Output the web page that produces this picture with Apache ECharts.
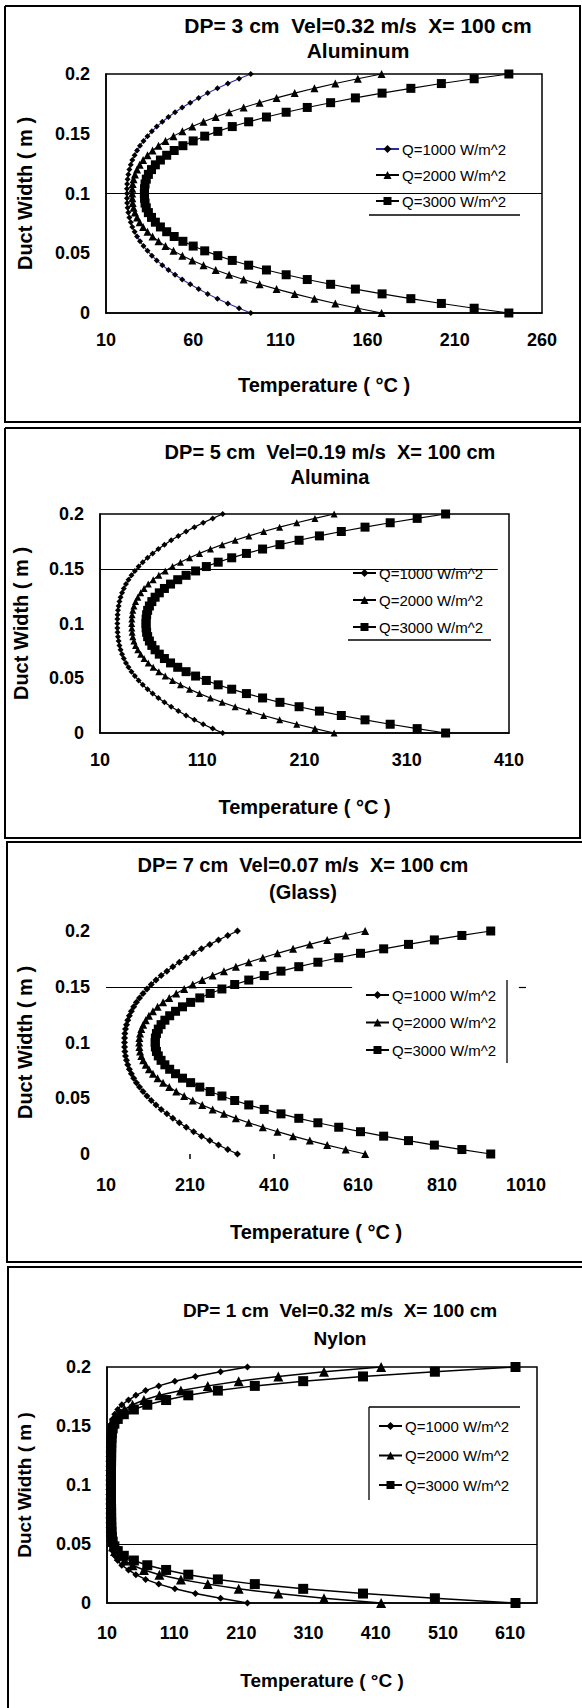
<!DOCTYPE html>
<html><head><meta charset="utf-8">
<script src="https://cdn.jsdelivr.net/npm/echarts@6/dist/echarts.min.js"></script>
<style>html,body{margin:0;padding:0;background:#fff}#c{width:582px;height:1708px}</style>
</head><body><div id="c"></div>
<script>
// ---------- DATA ----------
const ductWidth = [0,0.004,0.008,0.012,0.016,0.02,0.024,0.028,0.032,0.036,0.04,0.044,0.048,0.052,0.056,0.06,0.064,0.068,0.072,0.076,0.08,0.084,0.088,0.092,0.096,0.1,0.104,0.108,0.112,0.116,0.12,0.124,0.128,0.132,0.136,0.14,0.144,0.148,0.152,0.156,0.16,0.164,0.168,0.172,0.176,0.18,0.184,0.188,0.192,0.196,0.2];
const seriesNames = ['Q=1000 W/m^2','Q=2000 W/m^2','Q=3000 W/m^2'];

// Aluminum
const alQ1000 = [93,86.3,79.9,73.9,68.3,63.1,58.3,53.7,49.6,45.8,42.3,39.1,36.3,33.8,31.5,29.5,27.8,26.4,25.1,24.2,23.4,22.8,22.4,22.1,22,22,22,22.1,22.4,22.8,23.4,24.2,25.1,26.4,27.8,29.5,31.5,33.8,36.3,39.1,42.3,45.8,49.6,53.7,58.3,63.1,68.3,73.9,79.9,86.3,93];
const alQ2000 = [168,154.4,141.5,129.5,118.2,107.8,98.1,88.9,80.6,72.9,65.9,59.5,53.8,48.7,44.1,40.1,36.7,33.8,31.3,29.3,27.8,26.6,25.8,25.3,25.1,25,25.1,25.3,25.8,26.6,27.8,29.3,31.3,33.8,36.7,40.1,44.1,48.7,53.8,59.5,65.9,72.9,80.6,88.9,98.1,107.8,118.2,129.5,141.5,154.4,168];
const alQ3000 = [241,221.1,202.3,184.8,168.3,153,138.8,125.4,113.3,102,91.8,82.4,74.1,66.6,60,54.1,49.1,44.8,41.2,38.3,36.1,34.3,33.1,32.4,32.1,32,32.1,32.4,33.1,34.3,36.1,38.3,41.2,44.8,49.1,54.1,60,66.6,74.1,82.4,91.8,102,113.3,125.4,138.8,153,168.3,184.8,202.3,221.1,241];
// Alumina
const anQ1000 = [130,120.2,110.9,102.3,94.2,86.6,79.6,73,67.1,61.5,56.5,51.8,47.8,44.1,40.8,37.9,35.4,33.3,31.6,30.1,29,28.2,27.6,27.2,27,27,27,27.2,27.6,28.2,29,30.1,31.6,33.3,35.4,37.9,40.8,44.1,47.8,51.8,56.5,61.5,67.1,73,79.6,86.6,94.2,102.3,110.9,120.2,130];
const anQ2000 = [239,220.2,202.4,185.7,170.1,155.6,142.2,129.5,118,107.3,97.6,88.7,80.9,73.8,67.5,62,57.2,53.1,49.8,47,44.8,43.2,42.1,41.4,41.1,41,41.1,41.4,42.1,43.2,44.8,47,49.8,53.1,57.2,62,67.5,73.8,80.9,88.7,97.6,107.3,118,129.5,142.2,155.6,170.1,185.7,202.4,220.2,239];
const anQ3000 = [348,320.2,293.8,269.2,246,224.6,204.7,186,169,153.2,138.8,125.6,114,103.5,94.2,86,79,73,68,63.9,60.7,58.3,56.6,55.6,55.1,55,55.1,55.6,56.6,58.3,60.7,63.9,68,73,79,86,94.2,103.5,114,125.6,138.8,153.2,169,186,204.7,224.6,246,269.2,293.8,320.2,348];
// Glass
const glQ1000 = [323,299.9,277.8,257.1,237.2,218.6,201.1,184.5,169.1,154.9,141.4,129,117.8,107.5,98.1,89.8,82.4,75.9,70.4,65.6,61.8,58.8,56.5,55,54.2,54,54.2,55,56.5,58.8,61.8,65.6,70.4,75.9,82.4,89.8,98.1,107.5,117.8,129,141.4,154.9,169.1,184.5,201.1,218.6,237.2,257.1,277.8,299.9,323];
const glQ2000 = [627,580.7,536.6,495.2,455.4,418.3,383.3,349.9,319.3,290.8,263.9,239.1,216.5,196.1,177.2,160.6,145.9,132.8,121.7,112.3,104.6,98.5,94.1,91.1,89.4,89,89.4,91.1,94.1,98.5,104.6,112.3,121.7,132.8,145.9,160.6,177.2,196.1,216.5,239.1,263.9,290.8,319.3,349.9,383.3,418.3,455.4,495.2,536.6,580.7,627];
const glQ3000 = [926,857.3,791.8,730.2,671.1,616,564.1,514.5,469,426.6,386.7,349.9,316.4,286,258,233.3,211.5,192.1,175.6,161.6,150.2,141.1,134.5,130.1,127.6,127,127.6,130.1,134.5,141.1,150.2,161.6,175.6,192.1,211.5,233.3,258,286,316.4,349.9,386.7,426.6,469,514.5,564.1,616,671.1,730.2,791.8,857.3,926];
// Nylon
const nyQ1000 = [219,179,141.5,111,87,67.5,53,42,32,26,21.5,18.5,16.8,15.8,15.1,14.7,14.4,14.2,14.1,14,14,14,14,14,14,14,14,14,14,14,14,14,14.1,14.2,14.4,14.7,15.1,15.8,16.8,18.5,21.5,26,32,42,53,67.5,87,111,141.5,179,219];
const nyQ2000 = [418,333,265,206,160,120,88,65,48,36,27.5,22,19,17.3,16.3,15.8,15.5,15.3,15.2,15.1,15.1,15,15,15,15,15,15,15,15,15,15.1,15.1,15.2,15.3,15.5,15.8,16.3,17.3,19,22,27.5,36,48,65,88,120,160,206,265,333,418];
const nyQ3000 = [618,498,391,302,230,175,131,98,70,50,35,26,21,18.5,17.3,16.8,16.5,16.3,16.2,16.1,16.1,16,16,16,16,16,16,16,16,16,16.1,16.1,16.2,16.3,16.5,16.8,17.3,18.5,21,26,35,50,70,98,131,175,230,302,391,498,618];

const titleLine1 = ['DP= 3 cm  Vel=0.32 m/s  X= 100 cm','DP= 5 cm  Vel=0.19 m/s  X= 100 cm','DP= 7 cm  Vel=0.07 m/s  X= 100 cm','DP= 1 cm  Vel=0.32 m/s  X= 100 cm'];
const titleLine2 = ['Aluminum','Alumina','(Glass)','Nylon'];
const xTickLabels = [[10,60,110,160,210,260],[10,110,210,310,410],[10,210,410,610,810,1010],[10,110,210,310,410,510,610]];
const xMin = [10,10,10,10];
const xMax = [260,410,1010,650];
const yTickLabels = [0,0.05,0.1,0.15,0.2];
const refLineY = [0.1,0.15,0.15,0.05];
const xName = 'Temperature ( \u00B0C )';
const yName = 'Duct Width ( m )';

// ---------- LAYOUT / STYLE ----------
const FF = '"Liberation Sans", Arial, sans-serif';
const panelData = [[alQ1000,alQ2000,alQ3000],[anQ1000,anQ2000,anQ3000],[glQ1000,glQ2000,glQ3000],[nyQ1000,nyQ2000,nyQ3000]];
const layout = [
  {grid:{left:106,top:74,width:436,height:239}, box:true, tx:358, ty1:25, ty2:50, tsize:21, lsize:18, nsize:20, lm:18, nxGap:62, nyGap:71,
   legend:{left:371,top:138,gap:10}, sym:[6,8,9], lw:1.1, refSeg:null},
  {grid:{left:100,top:514,width:409,height:219}, box:true, tx:330, ty1:452, ty2:477, tsize:20, lsize:18, nsize:20, lm:18, nxGap:64, nyGap:69,
   legend:{left:348,top:562,gap:11}, sym:[6,7,9], lw:1.2, refSeg:[[10,399]]},
  {grid:{left:106,top:931,width:420,height:223}, box:false, tx:303, ty1:865, ty2:892, tsize:20, lsize:18, nsize:20, lm:22, nxGap:68, nyGap:71,
   legend:{left:361,top:984,gap:11.5}, sym:[7,8,9], lw:1.2, refSeg:[[10,596],[993,1010]]},
  {grid:{left:107,top:1367,width:430,height:236}, box:true, tx:340, ty1:1310, ty2:1338, tsize:19, lsize:18, nsize:19, lm:21, nxGap:68, nyGap:73,
   legend:{left:374,top:1415,gap:13.5}, sym:[7,10,10], lw:1.5, refSeg:null}
];
const symbols = ['diamond','triangle','rect'];

const grids=[], xAxes=[], yAxes=[], series=[], legends=[], graphics=[];
layout.forEach((L,p)=>{
  grids.push(Object.assign({show:L.box, borderColor:'#000', borderWidth:1.5, backgroundColor:'transparent'}, L.grid));
  xAxes.push({gridIndex:p, type:'value', min:xMin[p], max:xMax[p],
    axisLine:{show:L.box, lineStyle:{color:'#000', width:1.5}},
    axisTick:p===2?{show:true, customValues:[210,410], length:5, lineStyle:{color:'#000',width:1.5}}:{show:false},
    splitLine:{show:false},
    axisLabel:{customValues:xTickLabels[p], formatter:v=>String(v), color:'#000', fontWeight:'bold', fontSize:L.lsize, fontFamily:FF, margin:L.lm},
    name:xName, nameLocation:'middle', nameGap:L.nxGap,
    nameTextStyle:{color:'#000', fontWeight:'bold', fontSize:L.nsize, fontFamily:FF}});
  yAxes.push({gridIndex:p, type:'value', min:0, max:0.2, interval:0.05,
    axisLine:{show:L.box, lineStyle:{color:'#000', width:1.5}}, axisTick:{show:false}, splitLine:{show:false},
    axisLabel:{customValues:yTickLabels, formatter:v=>String(v), color:'#000', fontWeight:'bold', fontSize:L.lsize, fontFamily:FF, margin:16},
    name:yName, nameLocation:'middle', nameRotate:90, nameGap:L.nyGap,
    nameTextStyle:{color:'#000', fontWeight:'bold', fontSize:L.nsize, fontFamily:FF}});
  const names=[];
  panelData[p].forEach((arr,s)=>{
    const nm = seriesNames[s] + ' '.repeat(p);
    names.push(nm);
    const ser = {type:'line', name:nm, xAxisIndex:p, yAxisIndex:p, animation:false,
      data: arr.map((t,i)=>[t, ductWidth[i]]),
      symbol:symbols[s], symbolSize:L.sym[s], showAllSymbol:true,
      lineStyle:{color:(p===0&&s===0)?'#2a2aa8':'#000', width:L.lw},
      itemStyle:{color:'#000'}};
    if(s===0){
      let md;
      if(L.refSeg){ md = L.refSeg.map(seg=>[{coord:[seg[0],refLineY[p]]},{coord:[seg[1],refLineY[p]]}]); }
      else { md = [{yAxis:refLineY[p]}]; }
      ser.markLine = {silent:true, symbol:'none', animation:false, label:{show:false},
        lineStyle:{color:'#000', width:1.2, type:'solid'}, data: md};
    }
    series.push(ser);
  });
  legends.push({data:names, formatter:n=>n.trim(), orient:'vertical', left:L.legend.left, top:L.legend.top,
    itemGap:L.legend.gap, itemWidth:23, itemHeight:10, padding:[3,6,3,4], backgroundColor:'#fff', selectedMode:false,
    textStyle:{color:'#000', fontSize:15, fontFamily:FF, lineHeight:16, padding:[0,0,0,-2]}});
  graphics.push({type:'text', x:L.tx, y:L.ty1, silent:true,
    style:{text:titleLine1[p], font:'bold '+L.tsize+'px '+FF, fill:'#000', textAlign:'center', textVerticalAlign:'middle', align:'center', verticalAlign:'middle'}});
  graphics.push({type:'text', x:L.tx, y:L.ty2, silent:true,
    style:{text:titleLine2[p], font:'bold '+L.tsize+'px '+FF, fill:'#000', textAlign:'center', textVerticalAlign:'middle', align:'center', verticalAlign:'middle'}});
});

// frames and legend border remnants (decoration)
const frame = (pts)=>({type:'polyline', silent:true, shape:{points:pts}, style:{stroke:'#000', lineWidth:2, fill:null}});
graphics.push(frame([[5,6],[580,6],[580,422],[5,422],[5,6]]));
graphics.push(frame([[5,428],[580,428],[580,838],[5,838],[5,428]]));
graphics.push(frame([[582,842],[7,842],[7,1262],[582,1262]]));
graphics.push(frame([[582,1267],[8,1267],[8,1708]]));
const seg = (x1,y1,x2,y2)=>({type:'line', silent:true, z:10, shape:{x1,y1,x2,y2}, style:{stroke:'#000', lineWidth:1.3}});
graphics.push(seg(369,215,520,215));
graphics.push(seg(348,640,491,640));
graphics.push(seg(507,980,507,1063));
graphics.push(seg(369,1407,520,1407));
graphics.push(seg(369,1407,369,1500));

const chart = echarts.init(document.getElementById('c'), null, {renderer:'svg', width:582, height:1708});
chart.setOption({backgroundColor:'#fff', animation:false, grid:grids, xAxis:xAxes, yAxis:yAxes, series, legend:legends, graphic:graphics});
</script></body></html>
